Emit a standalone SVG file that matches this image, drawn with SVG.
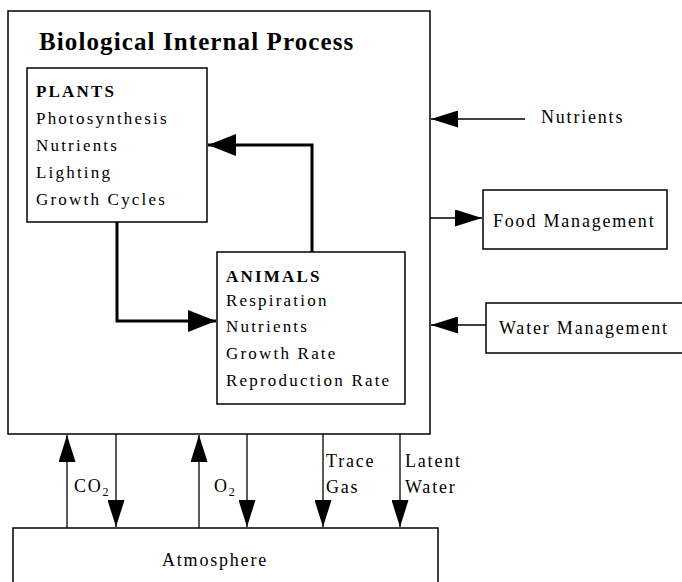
<svg xmlns="http://www.w3.org/2000/svg" width="682" height="582" viewBox="0 0 682 582">
<style>
.box{fill:#fff;stroke:#000;stroke-width:1.5}
.t{font-family:"Liberation Serif","Times New Roman",serif;font-size:17px;letter-spacing:2.2px;fill:#000}
.b{font-weight:bold}
.r{font-family:"Liberation Serif","Times New Roman",serif;font-size:18px;letter-spacing:1.8px;fill:#000}
.thin{fill:none;stroke:#000;stroke-width:1.3}
.thick{fill:none;stroke:#000;stroke-width:3}
</style>
<defs>
<marker id="ah" markerUnits="userSpaceOnUse" markerWidth="27" markerHeight="17" refX="27" refY="8.5" orient="auto"><path d="M0,0 L27,8.5 L0,17 z" fill="#000"/></marker>
<marker id="ahT" markerUnits="userSpaceOnUse" markerWidth="29" markerHeight="22" refX="28" refY="11" orient="auto"><path d="M0,0 L28,11 L0,22 z" fill="#000"/></marker>
</defs>
<rect width="682" height="582" fill="#fff"/>
<g id="bio">
<rect class="box" x="8" y="11" width="422" height="423"/>
<text x="39" y="50" font-family="Liberation Serif,serif" font-size="25" font-weight="bold" letter-spacing="1.1">Biological Internal Process</text>
</g>
<g id="plants">
<rect class="box" x="27" y="68" width="180" height="154"/>
<text class="t b" x="36" y="97">PLANTS</text>
<text class="t" x="36" y="124">Photosynthesis</text>
<text class="t" x="36" y="151">Nutrients</text>
<text class="t" x="36" y="178">Lighting</text>
<text class="t" x="36" y="205">Growth Cycles</text>
</g>
<g id="animals">
<rect class="box" x="217" y="252" width="188" height="152"/>
<text class="t b" x="226" y="282">ANIMALS</text>
<text class="t" x="226" y="306">Respiration</text>
<text class="t" x="226" y="332">Nutrients</text>
<text class="t" x="226" y="359">Growth Rate</text>
<text class="t" x="226" y="386">Reproduction Rate</text>
</g>
<g id="nutrients">
<text class="r" x="541" y="123">Nutrients</text>
</g>
<g id="food">
<rect class="box" x="483" y="190" width="184" height="59"/>
<text class="r" x="493" y="227">Food Management</text>
</g>
<g id="water">
<rect class="box" x="486" y="303" width="200" height="50"/>
<text class="r" x="499" y="334">Water Management</text>
</g>
<g id="atmosphere">
<rect class="box" x="13" y="528" width="425" height="60"/>
<text class="r" x="162" y="566" letter-spacing="3.2">Atmosphere</text>
</g>
<g id="connectors">
<path class="thick" d="M312,252 V145 H208" marker-end="url(#ahT)"/>
<path class="thick" d="M117,222 V321 H216" marker-end="url(#ahT)"/>
<path class="thin" d="M525,119 H431" marker-end="url(#ah)"/>
<path class="thin" d="M430,218 H482" marker-end="url(#ah)"/>
<path class="thin" d="M486,325 H431" marker-end="url(#ah)"/>
<path class="thin" d="M67,528 V435" marker-end="url(#ah)"/>
<path class="thin" d="M116,434 V527" marker-end="url(#ah)"/>
<path class="thin" d="M199,528 V435" marker-end="url(#ah)"/>
<path class="thin" d="M247,434 V527" marker-end="url(#ah)"/>
<path class="thin" d="M323,434 V527" marker-end="url(#ah)"/>
<path class="thin" d="M400,434 V527" marker-end="url(#ah)"/>
<text class="r" x="74" y="492">CO<tspan font-size="12" dy="4">2</tspan></text>
<text class="r" x="214" y="492">O<tspan font-size="12" dy="4">2</tspan></text>
<text class="r" x="326" y="467">Trace</text>
<text class="r" x="326" y="493">Gas</text>
<text class="r" x="405" y="467">Latent</text>
<text class="r" x="405" y="493">Water</text>
</g>
</svg>
